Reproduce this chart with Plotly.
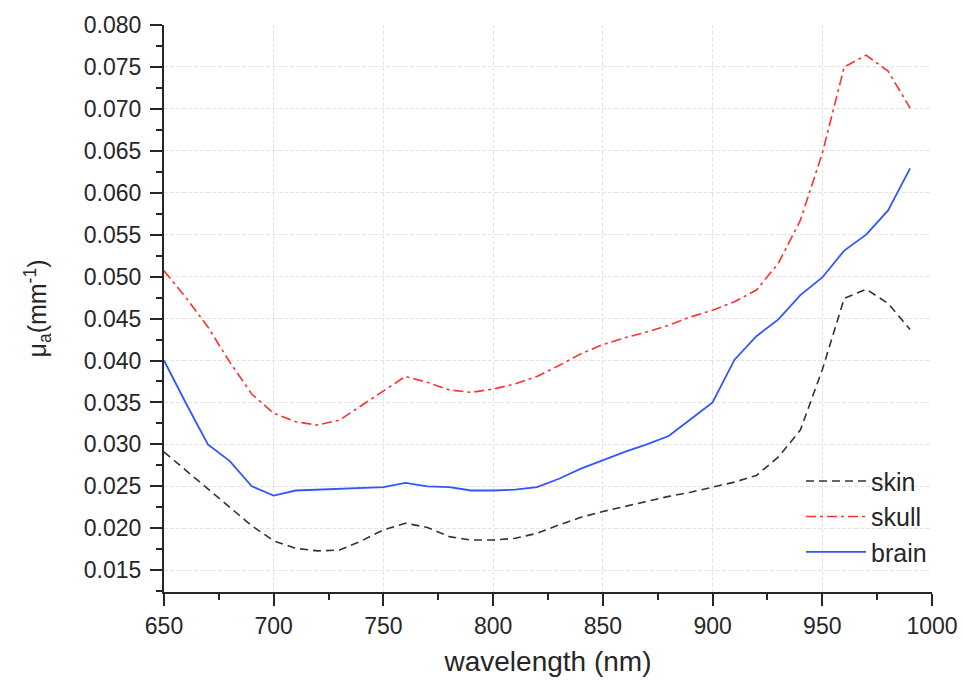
import plotly.graph_objects as go

wavelength = list(range(650, 1000, 10))

skin = [0.0291, 0.0269, 0.0248, 0.0225, 0.0203, 0.0185, 0.0176, 0.0173, 0.0174, 0.0185,
        0.0198, 0.0206, 0.0201, 0.0190, 0.0186, 0.0186, 0.0188, 0.0194, 0.0204, 0.0213,
        0.0220, 0.0226, 0.0232, 0.0238, 0.0243, 0.0249, 0.0255, 0.0263, 0.0285, 0.0317,
        0.0389, 0.0474, 0.0485, 0.0468, 0.0437]

skull = [0.0507, 0.0475, 0.0440, 0.0398, 0.0360, 0.0337, 0.0327, 0.0323, 0.0329, 0.0346,
         0.0364, 0.0381, 0.0374, 0.0365, 0.0362, 0.0366, 0.0372, 0.0381, 0.0394, 0.0408,
         0.0419, 0.0427, 0.0434, 0.0442, 0.0452, 0.0460, 0.0470, 0.0484, 0.0516, 0.0567,
         0.0647, 0.0750, 0.0764, 0.0745, 0.0701]

brain = [0.0400, 0.0349, 0.0300, 0.0280, 0.0250, 0.0239, 0.0245, 0.0246, 0.0247, 0.0248,
         0.0249, 0.0254, 0.0250, 0.0249, 0.0245, 0.0245, 0.0246, 0.0249, 0.0259, 0.0271,
         0.0281, 0.0291, 0.0300, 0.0310, 0.0330, 0.0350, 0.0401, 0.0429, 0.0449, 0.0478,
         0.0499, 0.0531, 0.0550, 0.0579, 0.0629]

font = "Liberation Sans, Arial, sans-serif"
ink = "#262626"

fig = go.Figure()
fig.add_trace(go.Scatter(x=wavelength, y=skin, mode="lines", name="skin",
                         line=dict(color="#333333", width=1.6, dash="8px,5px")))
fig.add_trace(go.Scatter(x=wavelength, y=skull, mode="lines", name="skull",
                         line=dict(color="#ff3030", width=1.6, dash="10px,4px,3px,4px")))
fig.add_trace(go.Scatter(x=wavelength, y=brain, mode="lines", name="brain",
                         line=dict(color="#3355ff", width=1.8)))

fig.update_layout(
    width=963, height=682,
    margin=dict(l=164, r=31, t=25, b=90, autoexpand=False),
    plot_bgcolor="white", paper_bgcolor="white",
    font=dict(family=font, color=ink, size=23),
    showlegend=True,
    legend=dict(x=1.0, y=0.236, xanchor="right", yanchor="top",
                bgcolor="rgba(0,0,0,0)", font=dict(size=25, color=ink),
                tracegroupgap=0, itemwidth=60),
    xaxis=dict(range=[650, 1000], tickmode="array",
               tickvals=[650, 700, 750, 800, 850, 900, 950, 1000],
               ticks="outside", ticklen=12, tickwidth=2, tickcolor=ink,
               showline=True, linecolor=ink, linewidth=2,
               showgrid=True, gridcolor="#e4e4e4", griddash="4px,2px", gridwidth=1,
               zeroline=False,
               minor=dict(dtick=25, tick0=650, ticks="outside", ticklen=6, tickwidth=2,
                          tickcolor=ink, showgrid=False),
               title=dict(text="wavelength (nm)", font=dict(size=28), standoff=14),
               tickfont=dict(size=23)),
    yaxis=dict(range=[0.0124, 0.080], tickmode="array",
               tickvals=[0.015, 0.020, 0.025, 0.030, 0.035, 0.040, 0.045, 0.050,
                         0.055, 0.060, 0.065, 0.070, 0.075, 0.080],
               tickformat=".3f",
               ticks="outside", ticklen=12, tickwidth=2, tickcolor=ink,
               ticklabelstandoff=4,
               showline=True, linecolor=ink, linewidth=2,
               showgrid=True, gridcolor="#e4e4e4", griddash="4px,2px", gridwidth=1,
               zeroline=False,
               minor=dict(dtick=0.0025, tick0=0.015, ticks="outside", ticklen=6, tickwidth=2,
                          tickcolor=ink, showgrid=False),
               title=dict(text="μ<sub>a</sub>(mm<sup>-1</sup>)", font=dict(size=25), standoff=30),
               tickfont=dict(size=23)),
)

fig.write_html("out.html")
